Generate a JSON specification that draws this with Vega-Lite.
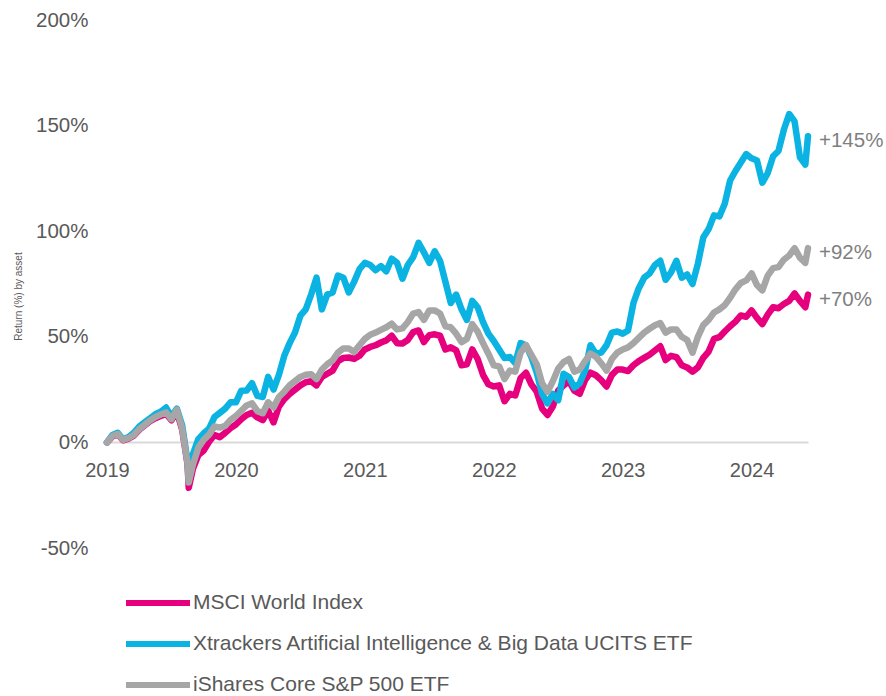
{
"$schema":"https://vega.github.io/schema/vega-lite/v6.json",
"width":701,"height":528,
"autosize":{"type":"none"},
"padding":{"left":107,"top":20,"right":78,"bottom":148},
"background":"white",
"config":{"view":{"stroke":null},"font":"Liberation Sans"},
"datasets":{
"labels":[
{"date":"2024-08-23","value":145,"label":"+145%"},
{"date":"2024-08-23","value":92,"label":"+92%"},
{"date":"2024-08-23","value":70,"label":"+70%"}
],
"series":[
{"date":"2019-08-23","series":"MSCI World Index","value":0},
{"date":"2019-09-06","series":"MSCI World Index","value":2.8},
{"date":"2019-09-20","series":"MSCI World Index","value":3.8},
{"date":"2019-10-04","series":"MSCI World Index","value":1},
{"date":"2019-10-18","series":"MSCI World Index","value":1.8},
{"date":"2019-11-01","series":"MSCI World Index","value":3.2},
{"date":"2019-11-15","series":"MSCI World Index","value":6},
{"date":"2019-11-29","series":"MSCI World Index","value":8},
{"date":"2019-12-13","series":"MSCI World Index","value":10},
{"date":"2019-12-27","series":"MSCI World Index","value":11.5},
{"date":"2020-01-10","series":"MSCI World Index","value":12.5},
{"date":"2020-01-24","series":"MSCI World Index","value":13.5},
{"date":"2020-02-07","series":"MSCI World Index","value":10.5},
{"date":"2020-02-21","series":"MSCI World Index","value":14.5},
{"date":"2020-03-06","series":"MSCI World Index","value":6},
{"date":"2020-03-20","series":"MSCI World Index","value":-10.5},
{"date":"2020-03-23","series":"MSCI World Index","value":-21.5},
{"date":"2020-04-03","series":"MSCI World Index","value":-12.5},
{"date":"2020-04-17","series":"MSCI World Index","value":-6},
{"date":"2020-05-01","series":"MSCI World Index","value":-3.8},
{"date":"2020-05-15","series":"MSCI World Index","value":0.3},
{"date":"2020-05-29","series":"MSCI World Index","value":3.5},
{"date":"2020-06-12","series":"MSCI World Index","value":2.5},
{"date":"2020-06-26","series":"MSCI World Index","value":4.5},
{"date":"2020-07-10","series":"MSCI World Index","value":6.8},
{"date":"2020-07-24","series":"MSCI World Index","value":8.5},
{"date":"2020-08-07","series":"MSCI World Index","value":11},
{"date":"2020-08-21","series":"MSCI World Index","value":13},
{"date":"2020-09-04","series":"MSCI World Index","value":14},
{"date":"2020-09-18","series":"MSCI World Index","value":11.8},
{"date":"2020-10-02","series":"MSCI World Index","value":10.5},
{"date":"2020-10-16","series":"MSCI World Index","value":15},
{"date":"2020-10-30","series":"MSCI World Index","value":9.5},
{"date":"2020-11-13","series":"MSCI World Index","value":17},
{"date":"2020-11-27","series":"MSCI World Index","value":20.5},
{"date":"2020-12-11","series":"MSCI World Index","value":23},
{"date":"2020-12-25","series":"MSCI World Index","value":25},
{"date":"2021-01-08","series":"MSCI World Index","value":27},
{"date":"2021-01-22","series":"MSCI World Index","value":28.5},
{"date":"2021-02-05","series":"MSCI World Index","value":29},
{"date":"2021-02-19","series":"MSCI World Index","value":27},
{"date":"2021-03-05","series":"MSCI World Index","value":31},
{"date":"2021-03-19","series":"MSCI World Index","value":32.5},
{"date":"2021-04-02","series":"MSCI World Index","value":34},
{"date":"2021-04-16","series":"MSCI World Index","value":38.5},
{"date":"2021-04-30","series":"MSCI World Index","value":40},
{"date":"2021-05-14","series":"MSCI World Index","value":40.2},
{"date":"2021-05-28","series":"MSCI World Index","value":39.5},
{"date":"2021-06-11","series":"MSCI World Index","value":41},
{"date":"2021-06-25","series":"MSCI World Index","value":44},
{"date":"2021-07-09","series":"MSCI World Index","value":45.2},
{"date":"2021-07-23","series":"MSCI World Index","value":46},
{"date":"2021-08-06","series":"MSCI World Index","value":47.3},
{"date":"2021-08-20","series":"MSCI World Index","value":48.3},
{"date":"2021-09-03","series":"MSCI World Index","value":50.5},
{"date":"2021-09-17","series":"MSCI World Index","value":47},
{"date":"2021-10-01","series":"MSCI World Index","value":46.8},
{"date":"2021-10-15","series":"MSCI World Index","value":48.5},
{"date":"2021-10-29","series":"MSCI World Index","value":52.2},
{"date":"2021-11-12","series":"MSCI World Index","value":53},
{"date":"2021-11-26","series":"MSCI World Index","value":47.5},
{"date":"2021-12-10","series":"MSCI World Index","value":50.8},
{"date":"2021-12-24","series":"MSCI World Index","value":51.2},
{"date":"2022-01-07","series":"MSCI World Index","value":50.5},
{"date":"2022-01-21","series":"MSCI World Index","value":44},
{"date":"2022-02-04","series":"MSCI World Index","value":45},
{"date":"2022-02-18","series":"MSCI World Index","value":43.6},
{"date":"2022-03-04","series":"MSCI World Index","value":36.5},
{"date":"2022-03-18","series":"MSCI World Index","value":37},
{"date":"2022-04-01","series":"MSCI World Index","value":44},
{"date":"2022-04-15","series":"MSCI World Index","value":39.5},
{"date":"2022-04-29","series":"MSCI World Index","value":32},
{"date":"2022-05-13","series":"MSCI World Index","value":27.5},
{"date":"2022-05-27","series":"MSCI World Index","value":26.5},
{"date":"2022-06-10","series":"MSCI World Index","value":27},
{"date":"2022-06-24","series":"MSCI World Index","value":19.5},
{"date":"2022-07-08","series":"MSCI World Index","value":23},
{"date":"2022-07-22","series":"MSCI World Index","value":22.2},
{"date":"2022-08-05","series":"MSCI World Index","value":30.5},
{"date":"2022-08-19","series":"MSCI World Index","value":33},
{"date":"2022-09-02","series":"MSCI World Index","value":27.5},
{"date":"2022-09-16","series":"MSCI World Index","value":24},
{"date":"2022-09-30","series":"MSCI World Index","value":16},
{"date":"2022-10-14","series":"MSCI World Index","value":13},
{"date":"2022-10-28","series":"MSCI World Index","value":17},
{"date":"2022-11-11","series":"MSCI World Index","value":24.5},
{"date":"2022-11-25","series":"MSCI World Index","value":27},
{"date":"2022-12-09","series":"MSCI World Index","value":29},
{"date":"2022-12-23","series":"MSCI World Index","value":24.5},
{"date":"2023-01-06","series":"MSCI World Index","value":23},
{"date":"2023-01-20","series":"MSCI World Index","value":29.5},
{"date":"2023-02-03","series":"MSCI World Index","value":33},
{"date":"2023-02-17","series":"MSCI World Index","value":31.8},
{"date":"2023-03-03","series":"MSCI World Index","value":29.5},
{"date":"2023-03-17","series":"MSCI World Index","value":26.5},
{"date":"2023-03-31","series":"MSCI World Index","value":32},
{"date":"2023-04-14","series":"MSCI World Index","value":34.5},
{"date":"2023-04-28","series":"MSCI World Index","value":34.5},
{"date":"2023-05-12","series":"MSCI World Index","value":33.8},
{"date":"2023-05-26","series":"MSCI World Index","value":36.5},
{"date":"2023-06-09","series":"MSCI World Index","value":38.5},
{"date":"2023-06-23","series":"MSCI World Index","value":40},
{"date":"2023-07-07","series":"MSCI World Index","value":41.5},
{"date":"2023-07-21","series":"MSCI World Index","value":43.5},
{"date":"2023-08-04","series":"MSCI World Index","value":45.5},
{"date":"2023-08-18","series":"MSCI World Index","value":39},
{"date":"2023-09-01","series":"MSCI World Index","value":41},
{"date":"2023-09-15","series":"MSCI World Index","value":40.4},
{"date":"2023-09-29","series":"MSCI World Index","value":36.5},
{"date":"2023-10-13","series":"MSCI World Index","value":35.5},
{"date":"2023-10-27","series":"MSCI World Index","value":33.5},
{"date":"2023-11-10","series":"MSCI World Index","value":35.5},
{"date":"2023-11-24","series":"MSCI World Index","value":40},
{"date":"2023-12-08","series":"MSCI World Index","value":43},
{"date":"2023-12-22","series":"MSCI World Index","value":49},
{"date":"2024-01-05","series":"MSCI World Index","value":49.8},
{"date":"2024-01-19","series":"MSCI World Index","value":52.5},
{"date":"2024-02-02","series":"MSCI World Index","value":55},
{"date":"2024-02-16","series":"MSCI World Index","value":57.2},
{"date":"2024-03-01","series":"MSCI World Index","value":60.1},
{"date":"2024-03-15","series":"MSCI World Index","value":59.5},
{"date":"2024-03-29","series":"MSCI World Index","value":62.5},
{"date":"2024-04-12","series":"MSCI World Index","value":59},
{"date":"2024-04-26","series":"MSCI World Index","value":56},
{"date":"2024-05-10","series":"MSCI World Index","value":60.5},
{"date":"2024-05-24","series":"MSCI World Index","value":64},
{"date":"2024-06-07","series":"MSCI World Index","value":63.5},
{"date":"2024-06-21","series":"MSCI World Index","value":65.5},
{"date":"2024-07-05","series":"MSCI World Index","value":67},
{"date":"2024-07-19","series":"MSCI World Index","value":70.5},
{"date":"2024-08-02","series":"MSCI World Index","value":67},
{"date":"2024-08-16","series":"MSCI World Index","value":64},
{"date":"2024-08-23","series":"MSCI World Index","value":70},
{"date":"2019-08-23","series":"Xtrackers Artificial Intelligence & Big Data UCITS ETF","value":0},
{"date":"2019-09-06","series":"Xtrackers Artificial Intelligence & Big Data UCITS ETF","value":3.5},
{"date":"2019-09-20","series":"Xtrackers Artificial Intelligence & Big Data UCITS ETF","value":4.5},
{"date":"2019-10-04","series":"Xtrackers Artificial Intelligence & Big Data UCITS ETF","value":1.5},
{"date":"2019-10-18","series":"Xtrackers Artificial Intelligence & Big Data UCITS ETF","value":2.5},
{"date":"2019-11-01","series":"Xtrackers Artificial Intelligence & Big Data UCITS ETF","value":4.5},
{"date":"2019-11-15","series":"Xtrackers Artificial Intelligence & Big Data UCITS ETF","value":7.5},
{"date":"2019-11-29","series":"Xtrackers Artificial Intelligence & Big Data UCITS ETF","value":9.5},
{"date":"2019-12-13","series":"Xtrackers Artificial Intelligence & Big Data UCITS ETF","value":11.4},
{"date":"2019-12-27","series":"Xtrackers Artificial Intelligence & Big Data UCITS ETF","value":13.3},
{"date":"2020-01-10","series":"Xtrackers Artificial Intelligence & Big Data UCITS ETF","value":14.5},
{"date":"2020-01-24","series":"Xtrackers Artificial Intelligence & Big Data UCITS ETF","value":16.5},
{"date":"2020-02-07","series":"Xtrackers Artificial Intelligence & Big Data UCITS ETF","value":12.2},
{"date":"2020-02-21","series":"Xtrackers Artificial Intelligence & Big Data UCITS ETF","value":16},
{"date":"2020-03-06","series":"Xtrackers Artificial Intelligence & Big Data UCITS ETF","value":8},
{"date":"2020-03-20","series":"Xtrackers Artificial Intelligence & Big Data UCITS ETF","value":-9},
{"date":"2020-03-23","series":"Xtrackers Artificial Intelligence & Big Data UCITS ETF","value":-18},
{"date":"2020-04-03","series":"Xtrackers Artificial Intelligence & Big Data UCITS ETF","value":-5.5},
{"date":"2020-04-17","series":"Xtrackers Artificial Intelligence & Big Data UCITS ETF","value":1.5},
{"date":"2020-05-01","series":"Xtrackers Artificial Intelligence & Big Data UCITS ETF","value":4.3},
{"date":"2020-05-15","series":"Xtrackers Artificial Intelligence & Big Data UCITS ETF","value":6.5},
{"date":"2020-05-29","series":"Xtrackers Artificial Intelligence & Big Data UCITS ETF","value":12},
{"date":"2020-06-12","series":"Xtrackers Artificial Intelligence & Big Data UCITS ETF","value":14},
{"date":"2020-06-26","series":"Xtrackers Artificial Intelligence & Big Data UCITS ETF","value":16},
{"date":"2020-07-10","series":"Xtrackers Artificial Intelligence & Big Data UCITS ETF","value":19},
{"date":"2020-07-24","series":"Xtrackers Artificial Intelligence & Big Data UCITS ETF","value":19},
{"date":"2020-08-07","series":"Xtrackers Artificial Intelligence & Big Data UCITS ETF","value":24.5},
{"date":"2020-08-21","series":"Xtrackers Artificial Intelligence & Big Data UCITS ETF","value":24.6},
{"date":"2020-09-04","series":"Xtrackers Artificial Intelligence & Big Data UCITS ETF","value":28},
{"date":"2020-09-18","series":"Xtrackers Artificial Intelligence & Big Data UCITS ETF","value":22},
{"date":"2020-10-02","series":"Xtrackers Artificial Intelligence & Big Data UCITS ETF","value":21.5},
{"date":"2020-10-16","series":"Xtrackers Artificial Intelligence & Big Data UCITS ETF","value":31},
{"date":"2020-10-30","series":"Xtrackers Artificial Intelligence & Big Data UCITS ETF","value":25},
{"date":"2020-11-13","series":"Xtrackers Artificial Intelligence & Big Data UCITS ETF","value":32},
{"date":"2020-11-27","series":"Xtrackers Artificial Intelligence & Big Data UCITS ETF","value":41},
{"date":"2020-12-11","series":"Xtrackers Artificial Intelligence & Big Data UCITS ETF","value":47},
{"date":"2020-12-25","series":"Xtrackers Artificial Intelligence & Big Data UCITS ETF","value":52},
{"date":"2021-01-08","series":"Xtrackers Artificial Intelligence & Big Data UCITS ETF","value":60},
{"date":"2021-01-22","series":"Xtrackers Artificial Intelligence & Big Data UCITS ETF","value":63},
{"date":"2021-02-05","series":"Xtrackers Artificial Intelligence & Big Data UCITS ETF","value":70},
{"date":"2021-02-19","series":"Xtrackers Artificial Intelligence & Big Data UCITS ETF","value":78},
{"date":"2021-03-05","series":"Xtrackers Artificial Intelligence & Big Data UCITS ETF","value":63},
{"date":"2021-03-19","series":"Xtrackers Artificial Intelligence & Big Data UCITS ETF","value":70},
{"date":"2021-04-02","series":"Xtrackers Artificial Intelligence & Big Data UCITS ETF","value":71},
{"date":"2021-04-16","series":"Xtrackers Artificial Intelligence & Big Data UCITS ETF","value":79},
{"date":"2021-04-30","series":"Xtrackers Artificial Intelligence & Big Data UCITS ETF","value":78},
{"date":"2021-05-14","series":"Xtrackers Artificial Intelligence & Big Data UCITS ETF","value":71},
{"date":"2021-05-28","series":"Xtrackers Artificial Intelligence & Big Data UCITS ETF","value":76},
{"date":"2021-06-11","series":"Xtrackers Artificial Intelligence & Big Data UCITS ETF","value":82},
{"date":"2021-06-25","series":"Xtrackers Artificial Intelligence & Big Data UCITS ETF","value":85},
{"date":"2021-07-09","series":"Xtrackers Artificial Intelligence & Big Data UCITS ETF","value":84},
{"date":"2021-07-23","series":"Xtrackers Artificial Intelligence & Big Data UCITS ETF","value":81.5},
{"date":"2021-08-06","series":"Xtrackers Artificial Intelligence & Big Data UCITS ETF","value":83.5},
{"date":"2021-08-20","series":"Xtrackers Artificial Intelligence & Big Data UCITS ETF","value":81},
{"date":"2021-09-03","series":"Xtrackers Artificial Intelligence & Big Data UCITS ETF","value":87},
{"date":"2021-09-17","series":"Xtrackers Artificial Intelligence & Big Data UCITS ETF","value":85},
{"date":"2021-10-01","series":"Xtrackers Artificial Intelligence & Big Data UCITS ETF","value":77.5},
{"date":"2021-10-15","series":"Xtrackers Artificial Intelligence & Big Data UCITS ETF","value":84},
{"date":"2021-10-29","series":"Xtrackers Artificial Intelligence & Big Data UCITS ETF","value":87.7},
{"date":"2021-11-12","series":"Xtrackers Artificial Intelligence & Big Data UCITS ETF","value":94.5},
{"date":"2021-11-26","series":"Xtrackers Artificial Intelligence & Big Data UCITS ETF","value":90},
{"date":"2021-12-10","series":"Xtrackers Artificial Intelligence & Big Data UCITS ETF","value":85},
{"date":"2021-12-24","series":"Xtrackers Artificial Intelligence & Big Data UCITS ETF","value":90.5},
{"date":"2022-01-07","series":"Xtrackers Artificial Intelligence & Big Data UCITS ETF","value":86},
{"date":"2022-01-21","series":"Xtrackers Artificial Intelligence & Big Data UCITS ETF","value":76},
{"date":"2022-02-04","series":"Xtrackers Artificial Intelligence & Big Data UCITS ETF","value":66},
{"date":"2022-02-18","series":"Xtrackers Artificial Intelligence & Big Data UCITS ETF","value":70},
{"date":"2022-03-04","series":"Xtrackers Artificial Intelligence & Big Data UCITS ETF","value":63},
{"date":"2022-03-18","series":"Xtrackers Artificial Intelligence & Big Data UCITS ETF","value":58},
{"date":"2022-04-01","series":"Xtrackers Artificial Intelligence & Big Data UCITS ETF","value":67},
{"date":"2022-04-15","series":"Xtrackers Artificial Intelligence & Big Data UCITS ETF","value":64},
{"date":"2022-04-29","series":"Xtrackers Artificial Intelligence & Big Data UCITS ETF","value":57},
{"date":"2022-05-13","series":"Xtrackers Artificial Intelligence & Big Data UCITS ETF","value":51.5},
{"date":"2022-05-27","series":"Xtrackers Artificial Intelligence & Big Data UCITS ETF","value":48},
{"date":"2022-06-10","series":"Xtrackers Artificial Intelligence & Big Data UCITS ETF","value":44},
{"date":"2022-06-24","series":"Xtrackers Artificial Intelligence & Big Data UCITS ETF","value":40},
{"date":"2022-07-08","series":"Xtrackers Artificial Intelligence & Big Data UCITS ETF","value":40.4},
{"date":"2022-07-22","series":"Xtrackers Artificial Intelligence & Big Data UCITS ETF","value":37.5},
{"date":"2022-08-05","series":"Xtrackers Artificial Intelligence & Big Data UCITS ETF","value":47},
{"date":"2022-08-19","series":"Xtrackers Artificial Intelligence & Big Data UCITS ETF","value":46},
{"date":"2022-09-02","series":"Xtrackers Artificial Intelligence & Big Data UCITS ETF","value":40.5},
{"date":"2022-09-16","series":"Xtrackers Artificial Intelligence & Big Data UCITS ETF","value":33},
{"date":"2022-09-30","series":"Xtrackers Artificial Intelligence & Big Data UCITS ETF","value":23},
{"date":"2022-10-14","series":"Xtrackers Artificial Intelligence & Big Data UCITS ETF","value":18.5},
{"date":"2022-10-28","series":"Xtrackers Artificial Intelligence & Big Data UCITS ETF","value":23},
{"date":"2022-11-11","series":"Xtrackers Artificial Intelligence & Big Data UCITS ETF","value":20},
{"date":"2022-11-25","series":"Xtrackers Artificial Intelligence & Big Data UCITS ETF","value":32.5},
{"date":"2022-12-09","series":"Xtrackers Artificial Intelligence & Big Data UCITS ETF","value":31},
{"date":"2022-12-23","series":"Xtrackers Artificial Intelligence & Big Data UCITS ETF","value":26},
{"date":"2023-01-06","series":"Xtrackers Artificial Intelligence & Big Data UCITS ETF","value":28},
{"date":"2023-01-20","series":"Xtrackers Artificial Intelligence & Big Data UCITS ETF","value":34},
{"date":"2023-02-03","series":"Xtrackers Artificial Intelligence & Big Data UCITS ETF","value":46},
{"date":"2023-02-17","series":"Xtrackers Artificial Intelligence & Big Data UCITS ETF","value":42},
{"date":"2023-03-03","series":"Xtrackers Artificial Intelligence & Big Data UCITS ETF","value":42.5},
{"date":"2023-03-17","series":"Xtrackers Artificial Intelligence & Big Data UCITS ETF","value":46},
{"date":"2023-03-31","series":"Xtrackers Artificial Intelligence & Big Data UCITS ETF","value":52},
{"date":"2023-04-14","series":"Xtrackers Artificial Intelligence & Big Data UCITS ETF","value":52.5},
{"date":"2023-04-28","series":"Xtrackers Artificial Intelligence & Big Data UCITS ETF","value":51.5},
{"date":"2023-05-12","series":"Xtrackers Artificial Intelligence & Big Data UCITS ETF","value":53},
{"date":"2023-05-26","series":"Xtrackers Artificial Intelligence & Big Data UCITS ETF","value":66},
{"date":"2023-06-09","series":"Xtrackers Artificial Intelligence & Big Data UCITS ETF","value":73},
{"date":"2023-06-23","series":"Xtrackers Artificial Intelligence & Big Data UCITS ETF","value":78},
{"date":"2023-07-07","series":"Xtrackers Artificial Intelligence & Big Data UCITS ETF","value":80},
{"date":"2023-07-21","series":"Xtrackers Artificial Intelligence & Big Data UCITS ETF","value":84},
{"date":"2023-08-04","series":"Xtrackers Artificial Intelligence & Big Data UCITS ETF","value":86},
{"date":"2023-08-18","series":"Xtrackers Artificial Intelligence & Big Data UCITS ETF","value":77},
{"date":"2023-09-01","series":"Xtrackers Artificial Intelligence & Big Data UCITS ETF","value":80.5},
{"date":"2023-09-15","series":"Xtrackers Artificial Intelligence & Big Data UCITS ETF","value":86},
{"date":"2023-09-29","series":"Xtrackers Artificial Intelligence & Big Data UCITS ETF","value":78},
{"date":"2023-10-13","series":"Xtrackers Artificial Intelligence & Big Data UCITS ETF","value":79.5},
{"date":"2023-10-27","series":"Xtrackers Artificial Intelligence & Big Data UCITS ETF","value":75},
{"date":"2023-11-10","series":"Xtrackers Artificial Intelligence & Big Data UCITS ETF","value":84.6},
{"date":"2023-11-24","series":"Xtrackers Artificial Intelligence & Big Data UCITS ETF","value":97},
{"date":"2023-12-08","series":"Xtrackers Artificial Intelligence & Big Data UCITS ETF","value":101},
{"date":"2023-12-22","series":"Xtrackers Artificial Intelligence & Big Data UCITS ETF","value":107.5},
{"date":"2024-01-05","series":"Xtrackers Artificial Intelligence & Big Data UCITS ETF","value":107},
{"date":"2024-01-19","series":"Xtrackers Artificial Intelligence & Big Data UCITS ETF","value":113},
{"date":"2024-02-02","series":"Xtrackers Artificial Intelligence & Big Data UCITS ETF","value":124},
{"date":"2024-02-16","series":"Xtrackers Artificial Intelligence & Big Data UCITS ETF","value":128.5},
{"date":"2024-03-01","series":"Xtrackers Artificial Intelligence & Big Data UCITS ETF","value":132.5},
{"date":"2024-03-15","series":"Xtrackers Artificial Intelligence & Big Data UCITS ETF","value":136.5},
{"date":"2024-03-29","series":"Xtrackers Artificial Intelligence & Big Data UCITS ETF","value":134.5},
{"date":"2024-04-12","series":"Xtrackers Artificial Intelligence & Big Data UCITS ETF","value":133.5},
{"date":"2024-04-26","series":"Xtrackers Artificial Intelligence & Big Data UCITS ETF","value":123},
{"date":"2024-05-10","series":"Xtrackers Artificial Intelligence & Big Data UCITS ETF","value":127.5},
{"date":"2024-05-24","series":"Xtrackers Artificial Intelligence & Big Data UCITS ETF","value":135.5},
{"date":"2024-06-07","series":"Xtrackers Artificial Intelligence & Big Data UCITS ETF","value":138},
{"date":"2024-06-21","series":"Xtrackers Artificial Intelligence & Big Data UCITS ETF","value":148},
{"date":"2024-07-05","series":"Xtrackers Artificial Intelligence & Big Data UCITS ETF","value":155.5},
{"date":"2024-07-19","series":"Xtrackers Artificial Intelligence & Big Data UCITS ETF","value":152},
{"date":"2024-08-02","series":"Xtrackers Artificial Intelligence & Big Data UCITS ETF","value":135},
{"date":"2024-08-16","series":"Xtrackers Artificial Intelligence & Big Data UCITS ETF","value":131.5},
{"date":"2024-08-23","series":"Xtrackers Artificial Intelligence & Big Data UCITS ETF","value":145},
{"date":"2019-08-23","series":"iShares Core S&P 500 ETF","value":0},
{"date":"2019-09-06","series":"iShares Core S&P 500 ETF","value":3},
{"date":"2019-09-20","series":"iShares Core S&P 500 ETF","value":4},
{"date":"2019-10-04","series":"iShares Core S&P 500 ETF","value":1.2},
{"date":"2019-10-18","series":"iShares Core S&P 500 ETF","value":2},
{"date":"2019-11-01","series":"iShares Core S&P 500 ETF","value":3.5},
{"date":"2019-11-15","series":"iShares Core S&P 500 ETF","value":6.3},
{"date":"2019-11-29","series":"iShares Core S&P 500 ETF","value":8.3},
{"date":"2019-12-13","series":"iShares Core S&P 500 ETF","value":10.4},
{"date":"2019-12-27","series":"iShares Core S&P 500 ETF","value":12},
{"date":"2020-01-10","series":"iShares Core S&P 500 ETF","value":13.2},
{"date":"2020-01-24","series":"iShares Core S&P 500 ETF","value":14.2},
{"date":"2020-02-07","series":"iShares Core S&P 500 ETF","value":11},
{"date":"2020-02-21","series":"iShares Core S&P 500 ETF","value":15.5},
{"date":"2020-03-06","series":"iShares Core S&P 500 ETF","value":6.5},
{"date":"2020-03-20","series":"iShares Core S&P 500 ETF","value":-10},
{"date":"2020-03-23","series":"iShares Core S&P 500 ETF","value":-19},
{"date":"2020-04-03","series":"iShares Core S&P 500 ETF","value":-10.5},
{"date":"2020-04-17","series":"iShares Core S&P 500 ETF","value":-2.5},
{"date":"2020-05-01","series":"iShares Core S&P 500 ETF","value":1.2},
{"date":"2020-05-15","series":"iShares Core S&P 500 ETF","value":3.7},
{"date":"2020-05-29","series":"iShares Core S&P 500 ETF","value":7.5},
{"date":"2020-06-12","series":"iShares Core S&P 500 ETF","value":7},
{"date":"2020-06-26","series":"iShares Core S&P 500 ETF","value":7.8},
{"date":"2020-07-10","series":"iShares Core S&P 500 ETF","value":10.7},
{"date":"2020-07-24","series":"iShares Core S&P 500 ETF","value":12.5},
{"date":"2020-08-07","series":"iShares Core S&P 500 ETF","value":15},
{"date":"2020-08-21","series":"iShares Core S&P 500 ETF","value":17.5},
{"date":"2020-09-04","series":"iShares Core S&P 500 ETF","value":18.5},
{"date":"2020-09-18","series":"iShares Core S&P 500 ETF","value":14.8},
{"date":"2020-10-02","series":"iShares Core S&P 500 ETF","value":13.8},
{"date":"2020-10-16","series":"iShares Core S&P 500 ETF","value":19},
{"date":"2020-10-30","series":"iShares Core S&P 500 ETF","value":16.5},
{"date":"2020-11-13","series":"iShares Core S&P 500 ETF","value":21.5},
{"date":"2020-11-27","series":"iShares Core S&P 500 ETF","value":24},
{"date":"2020-12-11","series":"iShares Core S&P 500 ETF","value":27},
{"date":"2020-12-25","series":"iShares Core S&P 500 ETF","value":29},
{"date":"2021-01-08","series":"iShares Core S&P 500 ETF","value":31},
{"date":"2021-01-22","series":"iShares Core S&P 500 ETF","value":32},
{"date":"2021-02-05","series":"iShares Core S&P 500 ETF","value":32.3},
{"date":"2021-02-19","series":"iShares Core S&P 500 ETF","value":30},
{"date":"2021-03-05","series":"iShares Core S&P 500 ETF","value":34.5},
{"date":"2021-03-19","series":"iShares Core S&P 500 ETF","value":37},
{"date":"2021-04-02","series":"iShares Core S&P 500 ETF","value":38.8},
{"date":"2021-04-16","series":"iShares Core S&P 500 ETF","value":42.5},
{"date":"2021-04-30","series":"iShares Core S&P 500 ETF","value":44.5},
{"date":"2021-05-14","series":"iShares Core S&P 500 ETF","value":44.5},
{"date":"2021-05-28","series":"iShares Core S&P 500 ETF","value":42.8},
{"date":"2021-06-11","series":"iShares Core S&P 500 ETF","value":46},
{"date":"2021-06-25","series":"iShares Core S&P 500 ETF","value":49},
{"date":"2021-07-09","series":"iShares Core S&P 500 ETF","value":51},
{"date":"2021-07-23","series":"iShares Core S&P 500 ETF","value":52},
{"date":"2021-08-06","series":"iShares Core S&P 500 ETF","value":53.3},
{"date":"2021-08-20","series":"iShares Core S&P 500 ETF","value":54.5},
{"date":"2021-09-03","series":"iShares Core S&P 500 ETF","value":56.2},
{"date":"2021-09-17","series":"iShares Core S&P 500 ETF","value":53.5},
{"date":"2021-10-01","series":"iShares Core S&P 500 ETF","value":54},
{"date":"2021-10-15","series":"iShares Core S&P 500 ETF","value":57},
{"date":"2021-10-29","series":"iShares Core S&P 500 ETF","value":61},
{"date":"2021-11-12","series":"iShares Core S&P 500 ETF","value":61.7},
{"date":"2021-11-26","series":"iShares Core S&P 500 ETF","value":58},
{"date":"2021-12-10","series":"iShares Core S&P 500 ETF","value":62.5},
{"date":"2021-12-24","series":"iShares Core S&P 500 ETF","value":62.5},
{"date":"2022-01-07","series":"iShares Core S&P 500 ETF","value":61},
{"date":"2022-01-21","series":"iShares Core S&P 500 ETF","value":55},
{"date":"2022-02-04","series":"iShares Core S&P 500 ETF","value":54.5},
{"date":"2022-02-18","series":"iShares Core S&P 500 ETF","value":51.5},
{"date":"2022-03-04","series":"iShares Core S&P 500 ETF","value":47.5},
{"date":"2022-03-18","series":"iShares Core S&P 500 ETF","value":49},
{"date":"2022-04-01","series":"iShares Core S&P 500 ETF","value":56},
{"date":"2022-04-15","series":"iShares Core S&P 500 ETF","value":52.5},
{"date":"2022-04-29","series":"iShares Core S&P 500 ETF","value":47},
{"date":"2022-05-13","series":"iShares Core S&P 500 ETF","value":42},
{"date":"2022-05-27","series":"iShares Core S&P 500 ETF","value":36.5},
{"date":"2022-06-10","series":"iShares Core S&P 500 ETF","value":36},
{"date":"2022-06-24","series":"iShares Core S&P 500 ETF","value":30},
{"date":"2022-07-08","series":"iShares Core S&P 500 ETF","value":34},
{"date":"2022-07-22","series":"iShares Core S&P 500 ETF","value":33.5},
{"date":"2022-08-05","series":"iShares Core S&P 500 ETF","value":42.5},
{"date":"2022-08-19","series":"iShares Core S&P 500 ETF","value":46},
{"date":"2022-09-02","series":"iShares Core S&P 500 ETF","value":41.5},
{"date":"2022-09-16","series":"iShares Core S&P 500 ETF","value":37},
{"date":"2022-09-30","series":"iShares Core S&P 500 ETF","value":28},
{"date":"2022-10-14","series":"iShares Core S&P 500 ETF","value":24},
{"date":"2022-10-28","series":"iShares Core S&P 500 ETF","value":29},
{"date":"2022-11-11","series":"iShares Core S&P 500 ETF","value":35},
{"date":"2022-11-25","series":"iShares Core S&P 500 ETF","value":38},
{"date":"2022-12-09","series":"iShares Core S&P 500 ETF","value":39.5},
{"date":"2022-12-23","series":"iShares Core S&P 500 ETF","value":33.5},
{"date":"2023-01-06","series":"iShares Core S&P 500 ETF","value":34.5},
{"date":"2023-01-20","series":"iShares Core S&P 500 ETF","value":38.5},
{"date":"2023-02-03","series":"iShares Core S&P 500 ETF","value":42},
{"date":"2023-02-17","series":"iShares Core S&P 500 ETF","value":40.6},
{"date":"2023-03-03","series":"iShares Core S&P 500 ETF","value":37.5},
{"date":"2023-03-17","series":"iShares Core S&P 500 ETF","value":34},
{"date":"2023-03-31","series":"iShares Core S&P 500 ETF","value":39.5},
{"date":"2023-04-14","series":"iShares Core S&P 500 ETF","value":42.5},
{"date":"2023-04-28","series":"iShares Core S&P 500 ETF","value":44},
{"date":"2023-05-12","series":"iShares Core S&P 500 ETF","value":45},
{"date":"2023-05-26","series":"iShares Core S&P 500 ETF","value":47},
{"date":"2023-06-09","series":"iShares Core S&P 500 ETF","value":49.5},
{"date":"2023-06-23","series":"iShares Core S&P 500 ETF","value":52},
{"date":"2023-07-07","series":"iShares Core S&P 500 ETF","value":53.8},
{"date":"2023-07-21","series":"iShares Core S&P 500 ETF","value":55.5},
{"date":"2023-08-04","series":"iShares Core S&P 500 ETF","value":56.5},
{"date":"2023-08-18","series":"iShares Core S&P 500 ETF","value":52},
{"date":"2023-09-01","series":"iShares Core S&P 500 ETF","value":53.5},
{"date":"2023-09-15","series":"iShares Core S&P 500 ETF","value":53.5},
{"date":"2023-09-29","series":"iShares Core S&P 500 ETF","value":50},
{"date":"2023-10-13","series":"iShares Core S&P 500 ETF","value":48.5},
{"date":"2023-10-27","series":"iShares Core S&P 500 ETF","value":42.5},
{"date":"2023-11-10","series":"iShares Core S&P 500 ETF","value":50},
{"date":"2023-11-24","series":"iShares Core S&P 500 ETF","value":55.5},
{"date":"2023-12-08","series":"iShares Core S&P 500 ETF","value":58},
{"date":"2023-12-22","series":"iShares Core S&P 500 ETF","value":61.5},
{"date":"2024-01-05","series":"iShares Core S&P 500 ETF","value":63},
{"date":"2024-01-19","series":"iShares Core S&P 500 ETF","value":65},
{"date":"2024-02-02","series":"iShares Core S&P 500 ETF","value":68.5},
{"date":"2024-02-16","series":"iShares Core S&P 500 ETF","value":72.5},
{"date":"2024-03-01","series":"iShares Core S&P 500 ETF","value":75.5},
{"date":"2024-03-15","series":"iShares Core S&P 500 ETF","value":76.7},
{"date":"2024-03-29","series":"iShares Core S&P 500 ETF","value":80},
{"date":"2024-04-12","series":"iShares Core S&P 500 ETF","value":74.5},
{"date":"2024-04-26","series":"iShares Core S&P 500 ETF","value":72},
{"date":"2024-05-10","series":"iShares Core S&P 500 ETF","value":79},
{"date":"2024-05-24","series":"iShares Core S&P 500 ETF","value":82.5},
{"date":"2024-06-07","series":"iShares Core S&P 500 ETF","value":83},
{"date":"2024-06-21","series":"iShares Core S&P 500 ETF","value":86.5},
{"date":"2024-07-05","series":"iShares Core S&P 500 ETF","value":88.5},
{"date":"2024-07-19","series":"iShares Core S&P 500 ETF","value":92},
{"date":"2024-08-02","series":"iShares Core S&P 500 ETF","value":87.5},
{"date":"2024-08-16","series":"iShares Core S&P 500 ETF","value":85},
{"date":"2024-08-23","series":"iShares Core S&P 500 ETF","value":92}
]
},
"layer":[
{
"data":{"name":"series"},
"mark":{"type":"line","strokeWidth":6.5,"strokeJoin":"round","strokeCap":"round"},
"encoding":{
"x":{"field":"date","type":"temporal",
"scale":{"domain":[{"year":2019,"month":8,"date":23,"utc":true},{"year":2024,"month":8,"date":23,"utc":true}],"nice":false},
"axis":{"title":null,"format":"%Y","grid":false,"ticks":false,"labelFlush":false,"labelOverlap":false,
"values":[{"year":2019,"month":8,"date":23,"utc":true},{"year":2020,"month":7,"date":24,"utc":true},{"year":2021,"month":6,"date":25,"utc":true},{"year":2022,"month":5,"date":27,"utc":true},{"year":2023,"month":4,"date":28,"utc":true},{"year":2024,"month":3,"date":29,"utc":true}],
"labelFontSize":20,"labelColor":"#595959","labelPadding":18,"domainColor":"#d9d9d9","domainWidth":2,"offset":-106}},
"y":{"field":"value","type":"quantitative",
"scale":{"domain":[-50,200],"nice":false,"zero":false},
"axis":{"title":"Return (%) by asset","values":[-50,0,50,100,150,200],"labelExpr":"datum.value + '%'",
"grid":false,"ticks":false,"domain":false,"labelFontSize":20.5,"labelColor":"#595959","labelPadding":19,
"titleFontSize":10,"titleFontWeight":"normal","titleColor":"#595959","titleX":-89,"titleY":276,"titleAlign":"center","titleBaseline":"middle"}},
"color":{"field":"series","type":"nominal",
"scale":{"domain":["MSCI World Index","Xtrackers Artificial Intelligence & Big Data UCITS ETF","iShares Core S&P 500 ETF"],"range":["#e6007e","#0bb3e2","#a6a6a6"]},
"legend":{"orient":"none","legendX":37,"legendY":569,"direction":"vertical","title":null,"padding":0,
"symbolType":"M-3,0H3","symbolSize":455,"symbolStrokeWidth":6,"labelFontSize":21,"labelColor":"#595959",
"labelOffset":21,"rowPadding":15,"labelLimit":1000}}
}
},
{
"data":{"name":"labels"},
"mark":{"type":"text","align":"left","baseline":"middle","dx":11,"dy":5,"fontSize":20.5,"color":"#7f7f7f"},
"encoding":{
"x":{"field":"date","type":"temporal"},
"y":{"field":"value","type":"quantitative"},
"text":{"field":"label"}
}
}
]
}
